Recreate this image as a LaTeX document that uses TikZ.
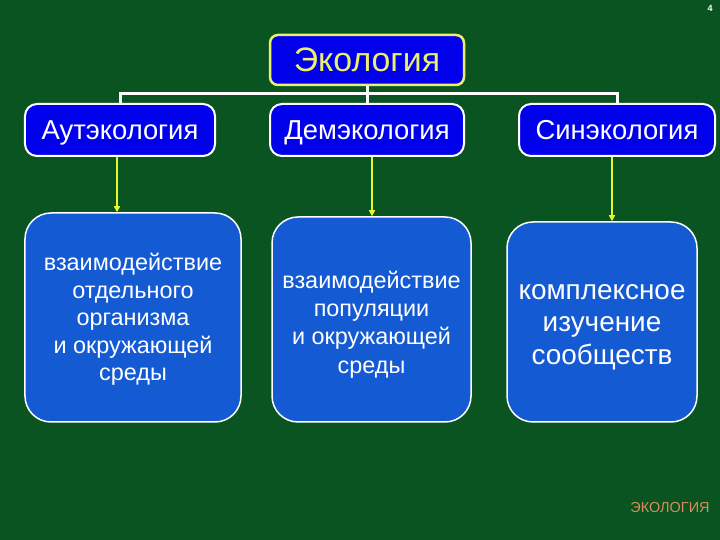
\documentclass[tikz,border=0pt]{standalone}
\usepackage{fontspec}
\setmainfont{Liberation Sans}
\usetikzlibrary{arrows.meta, positioning}
\definecolor{bgGreen}{RGB}{10,84,34}
\definecolor{boxBlue}{RGB}{0,0,235}
\definecolor{descBlue}{RGB}{20,90,210}
\definecolor{topYellow}{RGB}{238,238,110}
\definecolor{arrowYellow}{RGB}{225,250,40}
\definecolor{logoOrange}{RGB}{215,140,90}

\begin{document}
\begin{tikzpicture}[
        x=1bp, y=1bp,
        >=Stealth,
        topbox/.style={draw=topYellow, line width=2.5bp, fill=boxBlue, rounded corners=8bp,
            minimum width=194bp, minimum height=50bp, text=topYellow,
            text height=24bp, text depth=0pt,
            font=\fontsize{34}{38}\selectfont},
        branchbox/.style={draw=white, line width=2bp, fill=boxBlue, rounded corners=12bp,
            minimum height=52bp, text=white, text height=19.7bp, text depth=0pt,
            font=\fontsize{27.5}{30}\selectfont},
        descbox/.style={draw=white, line width=1.5bp, fill=descBlue, rounded corners=26bp},
        desctext/.style={text=white, align=center},
        tree/.style={white, line width=3bp},
        link/.style={->, arrowYellow, line width=1.5bp, >={Triangle[length=6bp, width=6bp]}}
    ]

    \fill[bgGreen] (0,0) rectangle (720,540);

    % top of the hierarchy
    \node[topbox] (eco) at (367,480) {Экология};

    % branches
    \node[branchbox, minimum width=190bp] (aut) at (120,410) {Аутэкология};
    \node[branchbox, minimum width=194bp] (dem) at (367,410) {Демэкология};
    \node[branchbox, minimum width=196bp] (syn) at (617,410) {Синэкология};

    % descriptions
    \node[descbox, minimum width=216bp, minimum height=209bp] (autd) at (133,222.5) {};
    \node[descbox, minimum width=199bp, minimum height=205bp] (demd) at (371.5,220.5) {};
    \node[descbox, minimum width=190bp, minimum height=200bp] (synd) at (602,218) {};

    \node[desctext, font=\fontsize{23.5}{27.5}\selectfont] (autt) at ([yshift=-2bp]autd.center)
        {взаимодействие\\отдельного\\организма\\и окружающей\\среды};
    \node[desctext, font=\fontsize{23.5}{28.5}\selectfont] (demt) at ([yshift=-5bp]demd.center)
        {взаимодействие\\популяции\\и окружающей\\среды};
    \node[desctext, font=\fontsize{28}{32.5}\selectfont] (synt) at ([yshift=-5bp]synd.center)
        {комплексное\\изучение\\сообществ};

    \coordinate (bar) at (0,446);
    \draw[tree] (eco.south) -- (dem.north);
    \draw[tree] (aut.north) -- (aut.north |- bar) -- (syn.north |- bar) -- (syn.north);

    \draw[link] ([xshift=-3bp]aut.south) -- ([xshift=-3bp]aut.south |- autd.north);
    \draw[link] ([xshift=5bp]dem.south) -- ([xshift=5bp]dem.south |- demd.north);
    \draw[link] ([xshift=-5bp]syn.south) -- ([xshift=-5bp]syn.south |- synd.north);

    \node[white, font=\fontsize{9}{10}\selectfont\bfseries] (page) at (710,532) {4};
    \node[logoOrange, font=\fontsize{14.5}{16}\selectfont] (logo) at (670,32) {ЭКОЛОГИЯ};
\end{tikzpicture}
\end{document}
